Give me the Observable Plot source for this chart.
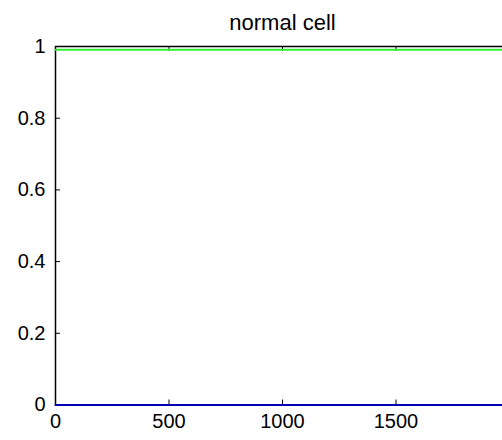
<!DOCTYPE html>
<html>
<head>
<meta charset="utf-8">
<script src="https://cdn.jsdelivr.net/npm/d3@7"></script>
<script src="https://cdn.jsdelivr.net/npm/@observablehq/plot@0.6"></script>
<style>
  html, body { margin: 0; padding: 0; background: #fff; overflow: hidden; }
  svg { display: block; }
</style>
</head>
<body>
<div id="chart"></div>
<script>
// ---- data ----
const title = "normal cell";
const timeSteps = [0, 500, 1000, 1500, 2000];
const greenValues = [0.991, 0.991, 0.991, 0.991, 0.991];
const blueValues = [0, 0, 0, 0, 0];
const xTicks = [0, 500, 1000, 1500];
const yTicks = [0, 0.2, 0.4, 0.6, 0.8, 1];
const xDomain = [0, 2000];
const yDomain = [0, 1];

const greenData = timeSteps.map((t, i) => ({t, v: greenValues[i]}));
const blueData = timeSteps.map((t, i) => ({t, v: blueValues[i]}));

const font = "'Liberation Sans', Arial, Helvetica, sans-serif";
const tickLenX = 5 * (xDomain[1] - xDomain[0]) / 454;
const tickLenY = 5 * (yDomain[1] - yDomain[0]) / 358.5;

const chart = Plot.plot({
  width: 502,
  height: 440,
  marginLeft: 55,
  marginRight: 0,
  marginTop: 46,
  marginBottom: 35.5,
  style: {fontFamily: font, fontSize: "20px", background: "#fff", color: "#000"},
  x: {domain: xDomain, range: [55, 509]},
  y: {domain: yDomain, range: [404.5, 46]},
  marks: [
    // inward ticks (box style)
    Plot.ruleY(yTicks, {y: d => d, x1: xDomain[0], x2: xDomain[0] + tickLenX, stroke: "#000", strokeWidth: 1}),
    Plot.ruleX(xTicks, {x: d => d, y1: yDomain[0], y2: yDomain[0] + tickLenY, stroke: "#000", strokeWidth: 1}),
    Plot.ruleX(xTicks, {x: d => d, y1: yDomain[1], y2: yDomain[1] - tickLenY, stroke: "#000", strokeWidth: 1}),
    // box
    Plot.ruleX([xDomain[0]], {y1: yDomain[0], y2: yDomain[1], stroke: "#000", strokeWidth: 1.5}),
    Plot.ruleY([yDomain[1]], {x1: xDomain[0], x2: xDomain[1], stroke: "#000", strokeWidth: 1.5}),
    Plot.ruleY([yDomain[0]], {x1: xDomain[0], x2: xDomain[1], stroke: "#000", strokeWidth: 1.5}),
    // series
    Plot.line(greenData, {x: "t", y: "v", stroke: "#33ee33", strokeWidth: 2}),
    Plot.line(blueData, {x: "t", y: "v", stroke: "#0000b4", strokeWidth: 2.2}),
    // axes labels
    Plot.axisY(yTicks, {tickSize: 0, tickPadding: 10, fontSize: 20, tickFormat: d => String(d), label: null}),
    Plot.axisX(xTicks, {tickSize: 0, tickPadding: 9, fontSize: 20, tickFormat: d => String(d), label: null}),
    // title
    Plot.text([title], {x: () => 1000, frameAnchor: "top", dy: -24, text: d => d, fontSize: 22, lineAnchor: "middle"})
  ]
});
document.getElementById("chart").appendChild(chart);
</script>
</body>
</html>
